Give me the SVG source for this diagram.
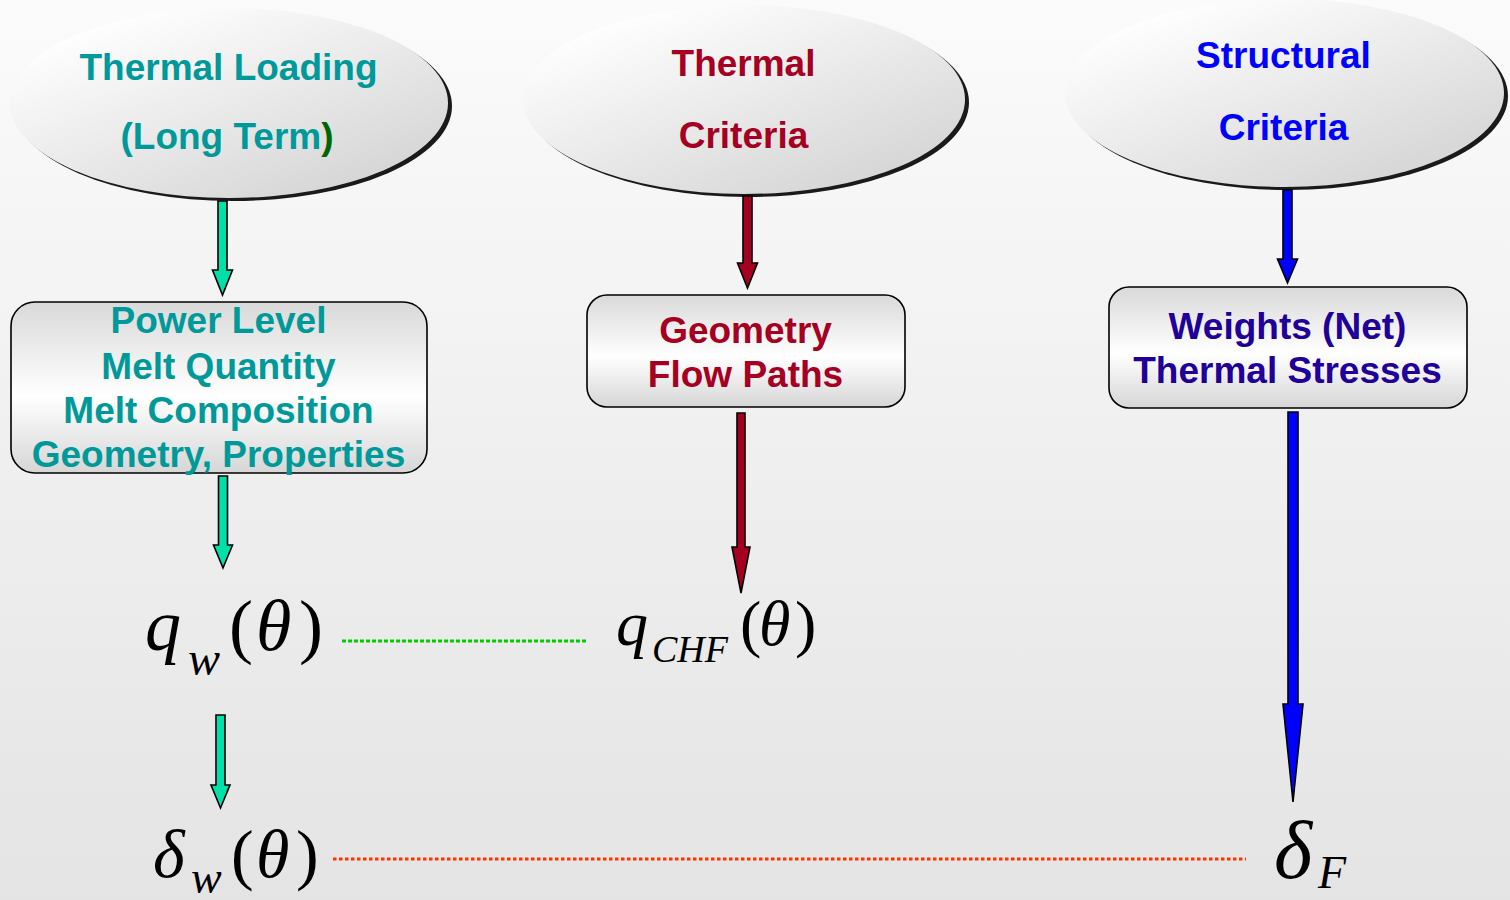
<svg xmlns="http://www.w3.org/2000/svg" width="1510" height="900" viewBox="0 0 1510 900">
<defs>
<linearGradient id="bg" x1="0" y1="0" x2="0" y2="1">
<stop offset="0" stop-color="#fbfbfb"/>
<stop offset="1" stop-color="#e4e4e4"/>
</linearGradient>
<linearGradient id="ell" x1="0.15" y1="0.1" x2="0.85" y2="0.95">
<stop offset="0" stop-color="#ffffff"/>
<stop offset="1" stop-color="#d4d4d4"/>
</linearGradient>
<linearGradient id="box" x1="0" y1="0" x2="0" y2="1">
<stop offset="0" stop-color="#d9d9d9"/>
<stop offset="0.55" stop-color="#ffffff"/>
<stop offset="1" stop-color="#d6d6d6"/>
</linearGradient>
<style>
.shadow{fill:#1a1a1a}
.ell{fill:url(#ell)}
.box{fill:url(#box);stroke:#000;stroke-width:1.6}
.t{font-family:"Liberation Sans",Arial,sans-serif;font-weight:bold;font-size:37px;text-anchor:middle}
.teal{fill:#009999}
.red{fill:#A50021}
.blue{fill:#0000FF}
.indigo{fill:#200099}
.arrow{stroke:#000;stroke-width:1.6;stroke-linejoin:miter}
.g{fill:#00E0A8}
.r{fill:#A50021}
.b{fill:#0000FF}
.m{font-family:"Liberation Serif","Times New Roman",serif;fill:#000}
.i{font-style:italic}
</style>
</defs>
<rect x="0" y="0" width="1510" height="900" fill="url(#bg)"/>

<g id="thermal-loading">
<ellipse class="shadow" cx="233" cy="106" rx="219" ry="95"/>
<ellipse class="ell" cx="229" cy="103" rx="219" ry="95"/>
<text class="t teal" x="228.5" y="80">Thermal Loading</text>
<text class="t teal" x="227" y="149">(Long Term<tspan fill="#006600">)</tspan></text>
</g>

<g id="thermal-criteria">
<ellipse class="shadow" cx="748" cy="102.5" rx="221" ry="94.5"/>
<ellipse class="ell" cx="744" cy="99.5" rx="221" ry="94.5"/>
<text class="t red" x="743.5" y="76">Thermal</text>
<text class="t red" x="743.5" y="148">Criteria</text>
</g>

<g id="structural-criteria">
<ellipse class="shadow" cx="1288.5" cy="96" rx="219.5" ry="94"/>
<ellipse class="ell" cx="1284.5" cy="93" rx="219.5" ry="94"/>
<text class="t blue" x="1283.5" y="68">Structural</text>
<text class="t blue" x="1283.5" y="140">Criteria</text>
</g>

<g id="inputs-box">
<rect class="box" x="11" y="302" width="416" height="171" rx="24"/>
<text class="t teal" x="218.5" y="333">Power Level</text>
<text class="t teal" x="218.5" y="379">Melt Quantity</text>
<text class="t teal" x="218.5" y="423">Melt Composition</text>
<text class="t teal" x="218.5" y="467">Geometry, Properties</text>
</g>

<g id="geometry-box">
<rect class="box" x="587" y="295" width="318" height="112" rx="20"/>
<text class="t red" x="745.5" y="343">Geometry</text>
<text class="t red" x="745.5" y="387">Flow Paths</text>
</g>

<g id="weights-box">
<rect class="box" x="1109" y="287" width="358" height="121" rx="20"/>
<text class="t indigo" x="1287.5" y="339">Weights (Net)</text>
<text class="t indigo" x="1287.5" y="383">Thermal Stresses</text>
</g>

<g id="qw">
<text class="m i" x="145" y="650" font-size="72">q</text>
<text class="m i" x="188" y="675" font-size="48">w</text>
<text class="m" x="229" y="650" font-size="72">(</text>
<text class="m i" x="256" y="650" font-size="72">θ</text>
<text class="m" x="299" y="650" font-size="72">)</text>
</g>

<g id="qchf">
<text class="m i" x="616" y="645" font-size="64">q</text>
<text class="m i" x="652" y="662" font-size="38">CHF</text>
<text class="m" x="740" y="645" font-size="64">(</text>
<text class="m i" x="759" y="645" font-size="64">θ</text>
<text class="m" x="795" y="645" font-size="64">)</text>
</g>

<g id="deltaw">
<text class="m i" x="153" y="877" font-size="68">δ</text>
<text class="m i" x="191" y="893" font-size="46">w</text>
<text class="m" x="231" y="877" font-size="68">(</text>
<text class="m i" x="256" y="877" font-size="68">θ</text>
<text class="m" x="296" y="877" font-size="68">)</text>
</g>

<g id="deltaF">
<text class="m i" x="1274" y="878" font-size="82">δ</text>
<text class="m i" x="1318" y="888" font-size="46">F</text>
</g>

<g id="connectors">
<path class="arrow g" d="M218,201 L227,201 L227,270 L232.5,270 L222.5,295 L212.5,270 L218,270 Z"/>
<path class="arrow g" d="M218.5,476 L227.5,476 L227.5,545 L232.5,545 L223,568 L213.5,545 L218.5,545 Z"/>
<path class="arrow g" d="M216,715 L225,715 L225,785 L230,785 L220.5,808 L211,785 L216,785 Z"/>
<path class="arrow r" d="M743,196 L752,196 L752,263 L757.5,263 L747.5,288 L737.5,263 L743,263 Z"/>
<path class="arrow r" d="M737,413 L745,413 L745,547 L750,547 L741,593 L732,547 L737,547 Z"/>
<path class="arrow b" d="M1283,190 L1292,190 L1292,259 L1297.5,259 L1287.5,283 L1277.5,259 L1283,259 Z"/>
<path class="arrow b" d="M1288,412 L1298,412 L1298,704 L1303,704 L1293,802 L1283,704 L1288,704 Z"/>
<line x1="342" y1="641" x2="586" y2="641" stroke="#00CC00" stroke-width="3" stroke-dasharray="4 2"/>
<line x1="333" y1="859" x2="1246" y2="859" stroke="#FF3300" stroke-width="3" stroke-dasharray="3.5 2.5"/>
</g>
</svg>
